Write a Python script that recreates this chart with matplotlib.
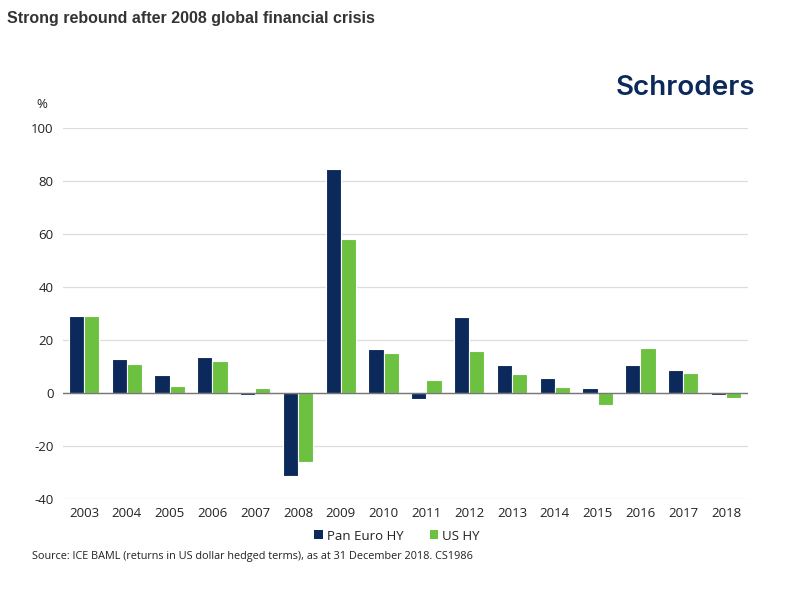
import numpy as np
import matplotlib
matplotlib.use("Agg")
import matplotlib.pyplot as plt
from matplotlib.patches import Patch

years = ["2003", "2004", "2005", "2006", "2007", "2008", "2009", "2010",
         "2011", "2012", "2013", "2014", "2015", "2016", "2017", "2018"]
pan_euro_hy = [29.1, 12.9, 6.9, 13.6, -0.8, -31.2, 84.6, 16.6,
               -2.3, 28.8, 10.4, 5.8, 2.0, 10.6, 8.8, -0.9]
us_hy = [29.0, 11.1, 2.8, 11.9, 1.9, -26.2, 58.2, 15.1,
         5.0, 15.8, 7.3, 2.4, -4.5, 17.1, 7.4, -2.0]
y_ticks = [-40, -20, 0, 20, 40, 60, 80, 100]

navy = "#0b2a5b"
green = "#6cc140"
text_col = "#222222"

plt.rcParams['font.family'] = ['Open Sans', 'DejaVu Sans']

fig = plt.figure(figsize=(8.02, 5.91), dpi=100)
ax = fig.add_axes([62.5 / 802, 1 - 499 / 591, 685 / 802, 371 / 591])

x = np.arange(len(years))
w = 0.355
ax.bar(x - w / 2, pan_euro_hy, w, color=navy, edgecolor="white", linewidth=0.8, zorder=3)
ax.bar(x + w / 2, us_hy, w, color=green, edgecolor="white", linewidth=0.8, zorder=3)

ax.set_xlim(-0.5, len(years) - 0.5)
ax.set_ylim(-40, 100)
ax.set_yticks(y_ticks)
ax.set_yticklabels([str(v) for v in y_ticks])
ax.set_xticks(x)
ax.set_xticklabels(years)
ax.tick_params(axis="both", length=0, labelsize=9.5, colors=text_col)
ax.tick_params(axis="y", pad=6.5)
ax.tick_params(axis="x", pad=6)

ax.yaxis.grid(True, color="#dddddd", linewidth=0.9, zorder=0)
ax.axhline(0, color="#777777", linewidth=1.0, zorder=4)
for s in ax.spines.values():
    s.set_visible(False)

fig.text(7 / 802, 1 - 18 / 591, "Strong rebound after 2008 global financial crisis",
         family=['Liberation Sans', 'DejaVu Sans'], fontweight="bold", fontsize=11.5,
         color="#333333", va="center", ha="left")
fig.text(616 / 802, 1 - 88 / 591, "Schroders", family=['Inter', 'DejaVu Sans'],
         fontweight="semibold", fontsize=20, color=navy, va="center", ha="left")
fig.text(42 / 802, 1 - 105 / 591, "%", fontsize=9.5, color=text_col, va="center", ha="center")

handles = [Patch(facecolor=navy, label="Pan Euro HY"), Patch(facecolor=green, label="US HY")]
fig.legend(handles=handles, loc="center", bbox_to_anchor=(397 / 802, 1 - 536 / 591), ncol=2,
           frameon=False, fontsize=9.5, handlelength=0.65, handleheight=0.65,
           handletextpad=0.3, columnspacing=2.0, labelcolor=text_col)

fig.text(32 / 802, 1 - 557 / 591,
         "Source: ICE BAML (returns in US dollar hedged terms), as at 31 December 2018. CS1986",
         fontsize=7.8, color=text_col, va="center", ha="left")

fig.savefig("out.png", dpi=100, facecolor="white")
